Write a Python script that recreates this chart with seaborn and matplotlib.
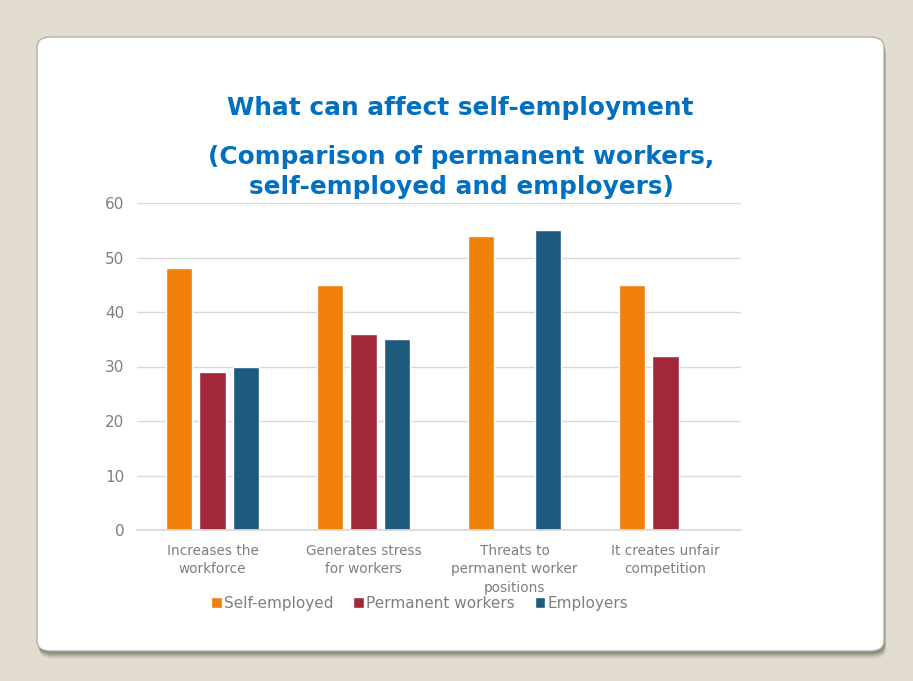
import matplotlib
matplotlib.use("Agg")
import matplotlib.pyplot as plt
from matplotlib.patches import FancyBboxPatch
import seaborn as sns
import pandas as pd
import numpy as np

categories = ["Increases the\nworkforce", "Generates stress\nfor workers",
              "Threats to\npermanent worker\npositions", "It creates unfair\ncompetition"]
series = ["Self-employed", "Permanent workers", "Employers"]
self_employed = [48, 45, 54, 45]
permanent_workers = [29, 36, np.nan, 32]
employers = [30, 35, 55, np.nan]
colors = ["#F0800A", "#A0283A", "#1D5A7E"]

df = pd.DataFrame({
    "category": categories * 3,
    "group": [series[0]] * 4 + [series[1]] * 4 + [series[2]] * 4,
    "value": self_employed + permanent_workers + employers,
})

sns.set_theme(style="white")
plt.rcParams["font.family"] = ["DejaVu Sans"]

fig = plt.figure(figsize=(9.13, 6.81), dpi=100)
fig.patch.set_facecolor("#E3DDD1")

# card with drop shadow
W, H = 913, 681
def card(x0, y0, x1, y1, **kw):
    return FancyBboxPatch((x0 / W, 1 - y1 / H), (x1 - x0) / W, (y1 - y0) / H,
                          boxstyle="round,pad=0,rounding_size=0.015",
                          transform=fig.transFigure, **kw)
for off, a in [(8, 0.05), (7, 0.07), (6, 0.09), (5, 0.11), (4, 0.13), (3, 0.15), (2, 0.18)]:
    fig.patches.append(card(37 + off * 0.3, 37 + off, 884 + off * 0.3, 651 + off,
                            facecolor="#4a4a3a", edgecolor="none", alpha=a, zorder=0))
fig.patches.append(card(37, 37, 884, 651, facecolor="white", edgecolor="#B0B0B0",
                        linewidth=1.0, zorder=1))

ax = fig.add_axes([137 / W, 1 - 530 / H, (741 - 137) / W, (530 - 203) / H])
ax.set_zorder(2)
ax.patch.set_alpha(0)
sns.barplot(data=df, x="category", y="value", hue="group", hue_order=series,
            order=categories, palette=colors, width=0.666, gap=0.22,
            saturation=1, ax=ax, legend=True)

ax.set_ylim(0, 60)
ax.set_yticks(range(0, 61, 10))
ax.set_xlim(-0.5, 3.5)
ax.set_xlabel("")
ax.set_ylabel("")
ax.yaxis.grid(True, color="#D9D9D9", linewidth=1)
ax.set_axisbelow(True)
for s in ["left", "right", "top"]:
    ax.spines[s].set_visible(False)
ax.spines["bottom"].set_color("#D9D9D9")
ax.tick_params(axis="y", length=0, colors="#7F7F7F", labelsize=11, pad=9)
ax.tick_params(axis="x", length=0, colors="#7F7F7F", labelsize=9.8, pad=10)
for lbl in ax.get_xticklabels():
    lbl.set_linespacing(1.4)

leg = ax.legend(loc="upper center", bbox_to_anchor=(0.468, -0.16), ncol=3,
                frameon=False, fontsize=11, handlelength=0.7, handleheight=0.7,
                handletextpad=0.15, columnspacing=1.3)
for t in leg.get_texts():
    t.set_color("#7F7F7F")

title_color = "#0070C0"
fig.text(460 / W, 1 - 108 / H, "What can affect self-employment", ha="center",
         va="center", fontsize=17.8, fontweight="bold", color=title_color)
fig.text(461 / W, 1 - 172 / H, "(Comparison of permanent workers,\nself-employed and employers)",
         ha="center", va="center", fontsize=17.8, fontweight="bold", color=title_color,
         linespacing=1.3)

fig.savefig("out.png", dpi=100, facecolor=fig.get_facecolor())
